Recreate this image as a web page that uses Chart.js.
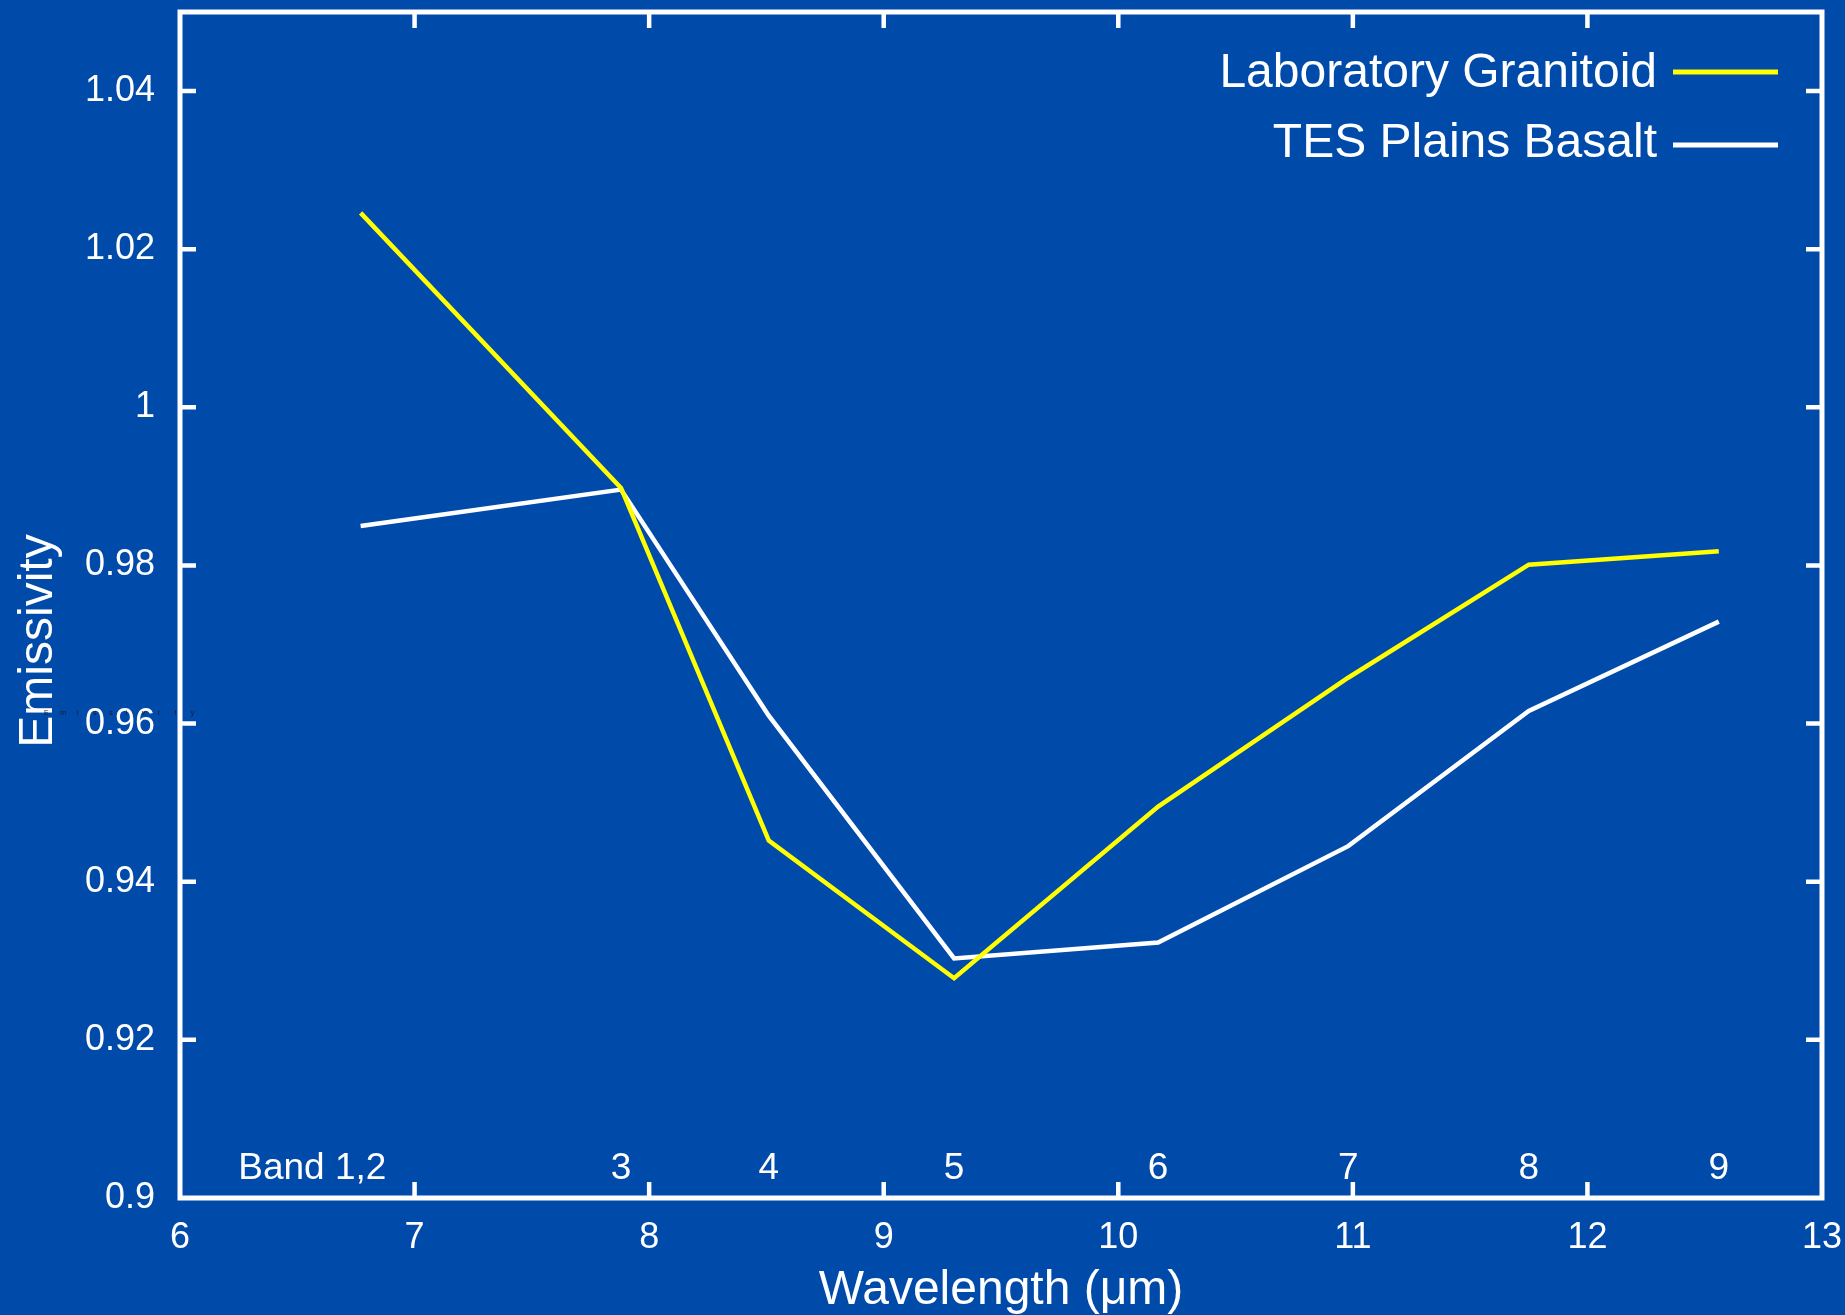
<!DOCTYPE html>
<html>
<head>
<meta charset="utf-8">
<title>Emissivity vs Wavelength</title>
<script src="https://cdn.jsdelivr.net/npm/chart.js@4.4.1/dist/chart.umd.min.js"></script>
<style>
  html, body { margin: 0; padding: 0; background: #004aaa; }
  canvas { display: block; }
</style>
</head>
<body>
<canvas id="emissivityChart" width="1845" height="1315"></canvas>
<script>
// band centres (um) and the two emissivity spectra
const bandWavelengths = [6.77, 7.88, 8.51, 9.30, 10.17, 10.98, 11.75, 12.56];
const bandLabels = ['1,2', '3', '4', '5', '6', '7', '8', '9'];
const granitoid = [1.0246, 0.9898, 0.9452, 0.9278, 0.9495, 0.9658, 0.9801, 0.9818];
const plainsBasalt = [0.9850, 0.9896, 0.9610, 0.9303, 0.9323, 0.9445, 0.9616, 0.9729];
const xTicks = [6, 7, 8, 9, 10, 11, 12, 13];
const yTicks = [0.9, 0.92, 0.94, 0.96, 0.98, 1, 1.02, 1.04];

const FONT = "'Liberation Sans', Arial, Helvetica, sans-serif";
const BG = '#004aaa';

const toPoints = vals => vals.map((v, i) => ({ x: bandWavelengths[i], y: v }));

// frame with inward ticks, band numbers, legend and the rotated y title
const decor = {
  id: 'decor',
  beforeDraw(chart) {
    const c = chart.ctx;
    c.save();
    c.fillStyle = BG;
    c.fillRect(0, 0, chart.width, chart.height);
    c.restore();
  },
  afterDatasetsDraw(chart) {
    const { ctx: c, chartArea: a, scales: { x, y } } = chart;
    c.save();
    c.strokeStyle = '#fff';
    c.lineWidth = 5;
    c.strokeRect(a.left, a.top, a.right - a.left, a.bottom - a.top);

    c.lineWidth = 4.5;
    c.beginPath();
    xTicks.slice(1, -1).forEach(v => {
      const px = x.getPixelForValue(v);
      c.moveTo(px, a.bottom); c.lineTo(px, a.bottom - 16);
      c.moveTo(px, a.top); c.lineTo(px, a.top + 16);
    });
    yTicks.slice(1).forEach(v => {
      const py = y.getPixelForValue(v);
      c.moveTo(a.left, py); c.lineTo(a.left + 16, py);
      c.moveTo(a.right, py); c.lineTo(a.right - 16, py);
    });
    c.stroke();

    // band numbers along the bottom
    c.fillStyle = '#fff';
    c.font = `37px ${FONT}`;
    c.textBaseline = 'alphabetic';
    bandLabels.forEach((lab, i) => {
      const px = x.getPixelForValue(bandWavelengths[i]);
      if (i === 0) {
        const w = c.measureText(lab).width;
        c.textAlign = 'right';
        c.fillText('Band ' + lab, px + w / 2, a.bottom - 19);
      } else {
        c.textAlign = 'center';
        c.fillText(lab, px, a.bottom - 19);
      }
    });

    // legend, text on the left of the line sample
    c.font = `48px ${FONT}`;
    c.textAlign = 'right';
    const lineY = [72, 145];
    chart.data.datasets.forEach((ds, i) => {
      c.fillStyle = '#fff';
      c.fillText(ds.label, a.right - 165, 87 + i * 70);
      c.strokeStyle = ds.borderColor;
      c.lineWidth = 5;
      c.beginPath();
      c.moveTo(a.right - 149, lineY[i]);
      c.lineTo(a.right - 44, lineY[i]);
      c.stroke();
    });

    // y axis title
    c.save();
    c.translate(52, 641);
    c.rotate(-Math.PI / 2);
    c.textAlign = 'center';
    c.font = `48px ${FONT}`;
    c.fillText('Emissivity', 0, 0);
    c.restore();

    // faint stray copy of the label seen in the original
    c.fillStyle = '#1a1a2a';
    c.font = `7px ${FONT}`;
    c.textAlign = 'left';
    'Emissivity'.split('').forEach((ch, i) => c.fillText(ch, 44 + i * 16.3, 715));
    c.restore();
  }
};

new Chart(document.getElementById('emissivityChart'), {
  type: 'line',
  data: {
    datasets: [
      {
        label: 'Laboratory Granitoid',
        data: toPoints(granitoid),
        borderColor: '#ffff00',
        borderWidth: 4.5,
        borderJoinStyle: 'miter',
        pointRadius: 0,
        tension: 0,
        fill: false
      },
      {
        label: 'TES Plains Basalt',
        data: toPoints(plainsBasalt),
        borderColor: '#ffffff',
        borderWidth: 4.5,
        borderJoinStyle: 'miter',
        pointRadius: 0,
        tension: 0,
        fill: false
      }
    ]
  },
  options: {
    responsive: false,
    devicePixelRatio: 1,
    animation: false,
    layout: { padding: { left: 0, right: 23, top: 12, bottom: 0 } },
    plugins: { legend: { display: false }, tooltip: { enabled: false } },
    scales: {
      x: {
        type: 'linear',
        min: 6,
        max: 13,
        afterBuildTicks: s => { s.ticks = xTicks.map(v => ({ value: v })); },
        afterFit: s => { s.height = 117; s.paddingLeft = 0; s.paddingRight = 0; },
        grid: { display: false, drawTicks: false },
        border: { display: false },
        ticks: { color: '#fff', font: { family: FONT, size: 36 }, padding: 18, maxRotation: 0 },
        title: {
          display: true,
          text: 'Wavelength (\u03bcm)',
          color: '#fff',
          font: { family: FONT, size: 48, lineHeight: 1 },
          padding: { top: 0, bottom: 0 }
        }
      },
      y: {
        type: 'linear',
        min: 0.9,
        max: 1.05,
        afterBuildTicks: s => { s.ticks = yTicks.map(v => ({ value: v })); },
        afterFit: s => { s.width = 180; s.paddingTop = 0; s.paddingBottom = 0; },
        grid: { display: false, drawTicks: false },
        border: { display: false },
        ticks: {
          color: '#fff',
          font: { family: FONT, size: 36 },
          padding: 25,
          callback: v => String(Number(v.toFixed(2)))
        }
      }
    }
  },
  plugins: [decor]
});
</script>
</body>
</html>
